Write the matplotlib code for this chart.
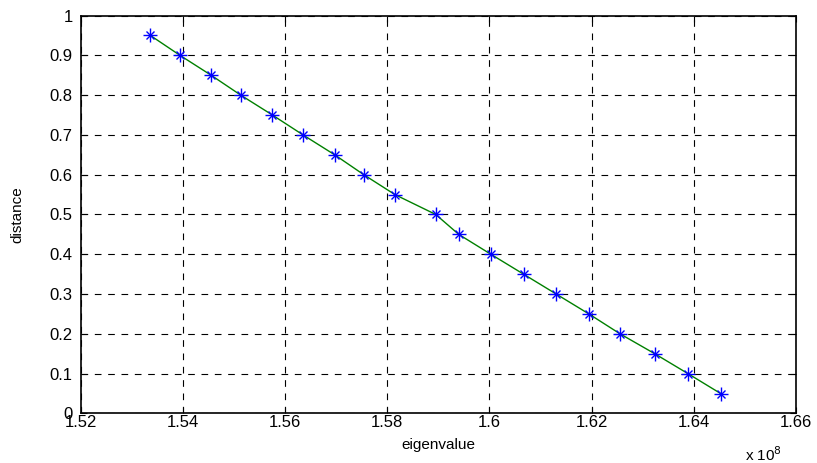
import matplotlib.pyplot as plt
from matplotlib.ticker import FuncFormatter, MultipleLocator

plt.rcParams['font.family'] = ['Liberation Sans', 'DejaVu Sans']

# eigenvalue (x 1e8) vs distance
eigenvalue = [1.5336, 1.5394, 1.5455, 1.5513, 1.5575, 1.5635, 1.5697, 1.5754,
              1.5815, 1.5895, 1.5940, 1.6003, 1.6067, 1.6131, 1.6195, 1.6256,
              1.6324, 1.6389, 1.6453]
distance = [0.95, 0.90, 0.85, 0.80, 0.75, 0.70, 0.65, 0.60, 0.55, 0.50,
            0.45, 0.40, 0.35, 0.30, 0.25, 0.20, 0.15, 0.10, 0.05]
x = [v * 1e8 for v in eigenvalue]

fig = plt.figure(figsize=(8.17, 4.63), dpi=100)
ax = fig.add_axes([0.099, 0.107, 0.875, 0.8595])

ax.plot(x, distance, color=(0, 0.5, 0), lw=1)
# matlab style '*' marker = plus + cross
ax.plot(x, distance, ls='none', marker='+', color='blue', ms=10, markeredgewidth=1)
ax.plot(x, distance, ls='none', marker='x', color='blue', ms=6, markeredgewidth=1)

ax.set_xlim(1.52e8, 1.66e8)
ax.set_ylim(0, 1)
ax.xaxis.set_major_locator(MultipleLocator(0.02e8))
ax.yaxis.set_major_locator(MultipleLocator(0.1))
ax.xaxis.set_major_formatter(FuncFormatter(lambda v, p: f'{v / 1e8:g}'))
ax.yaxis.set_major_formatter(FuncFormatter(lambda v, p: f'{v:g}'))

ax.grid(True, color='black', ls=(0, (6, 6)), lw=0.8)
ax.tick_params(direction='in', length=4, labelsize=12, top=True, right=True)
ax.tick_params(axis='x', pad=1)
ax.tick_params(axis='y', pad=6)
for s in ax.spines.values():
    s.set_linewidth(1.2)

ax.set_xlabel('eigenvalue', fontsize=11, labelpad=6)
ax.set_ylabel('distance', fontsize=11, labelpad=18)
ax.text(0.955, -0.08, r'x 10$^{8}$', transform=ax.transAxes, fontsize=11,
        ha='center', va='top')

fig.savefig('out.png', dpi=100)
